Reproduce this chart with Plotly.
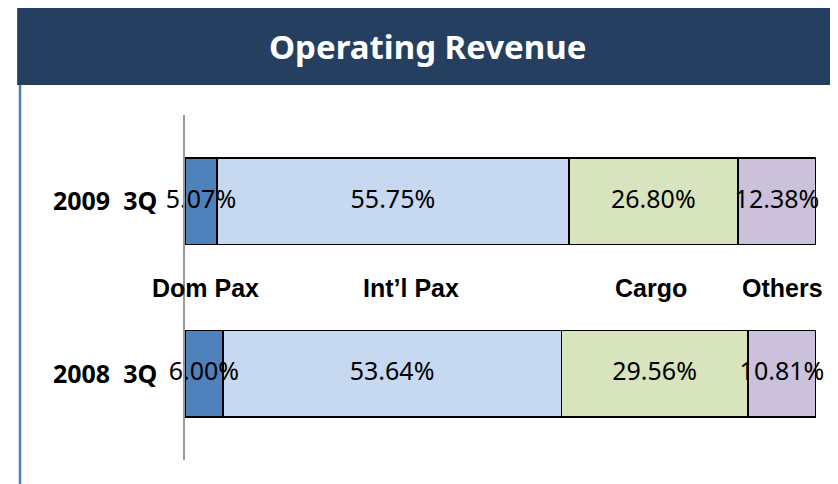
import plotly.graph_objects as go

periods = ["2008 3Q", "2009 3Q"]
period_labels = ["2008  3Q", "2009  3Q"]
segments = ["Dom Pax", "Int\u2019l Pax", "Cargo", "Others"]
shares = {
    "Dom Pax": [6.00, 5.07],
    "Int\u2019l Pax": [53.64, 55.75],
    "Cargo": [29.56, 26.80],
    "Others": [10.81, 12.38],
}
colors = ["#4F81BD", "#C6D9F1", "#D7E4BD", "#CCC1DA"]
legend_x = [3.3, 35.8, 73.8, 94.7]

fig = go.Figure()
base = [0.0, 0.0]
for seg, col in zip(segments, colors):
    vals = shares[seg]
    fig.add_trace(go.Bar(
        y=periods, x=vals, orientation="h", name=seg,
        marker=dict(color=col, line=dict(color="#000000", width=1.5)),
        width=0.5, hoverinfo="x+name",
    ))
    # percentage labels centred on each segment, never shrunk
    mids = [b + v / 2 for b, v in zip(base, vals)]
    fig.add_trace(go.Scatter(
        y=periods, x=mids, mode="text", text=[f"{v:.2f}%" for v in vals],
        textposition="middle center",
        textfont=dict(family="Noto Sans", size=25, color="#000000"),
        hoverinfo="skip", cliponaxis=False,
    ))
    base = [b + v for b, v in zip(base, vals)]

# segment names sit between the two bars
for seg, lx in zip(segments, legend_x):
    fig.add_annotation(
        x=lx, y=0.5, xref="x", yref="y", text=f"<b>{seg}</b>", showarrow=False,
        font=dict(family="Liberation Sans", size=25, color="#000000"),
        xanchor="center", yanchor="middle",
    )

# header band and frame
fig.add_shape(type="rect", xref="paper", yref="paper", x0=-0.266, x1=1.04, y0=1.087, y1=1.33,
              fillcolor="#253F61", line=dict(width=0), layer="below")
fig.add_shape(type="line", xref="paper", yref="paper", x0=-0.2615, x1=-0.2615, y0=-0.1, y1=1.087,
              line=dict(color="#4F81BD", width=2.5))
fig.add_shape(type="line", xref="paper", yref="paper", x0=1.0317, x1=1.0317, y0=-0.1, y1=1.087,
              line=dict(color="#4F81BD", width=2.5))
fig.add_annotation(
    x=0.385, y=1.2, xref="paper", yref="paper", text="<b>Operating Revenue</b>", showarrow=False,
    font=dict(family="Noto Sans", size=33, color="#FFFFFF"), xanchor="center", yanchor="middle",
)

fig.update_layout(
    barmode="stack",
    width=830, height=476,
    margin=dict(l=177, r=22, t=107, b=24),
    paper_bgcolor="#FFFFFF", plot_bgcolor="#FFFFFF",
    showlegend=False,
)
fig.update_xaxes(range=[0, 100], visible=False)
fig.update_yaxes(
    range=[-0.5, 1.5], tickvals=periods, ticktext=[f"<b>{p}</b>" for p in period_labels],
    tickfont=dict(family="Noto Sans", size=25, color="#000000"),
    showline=True, linecolor="#999999", linewidth=1.5, showgrid=False,
    ticks="", ticklabelstandoff=21,
)

fig.write_html("out.html")
